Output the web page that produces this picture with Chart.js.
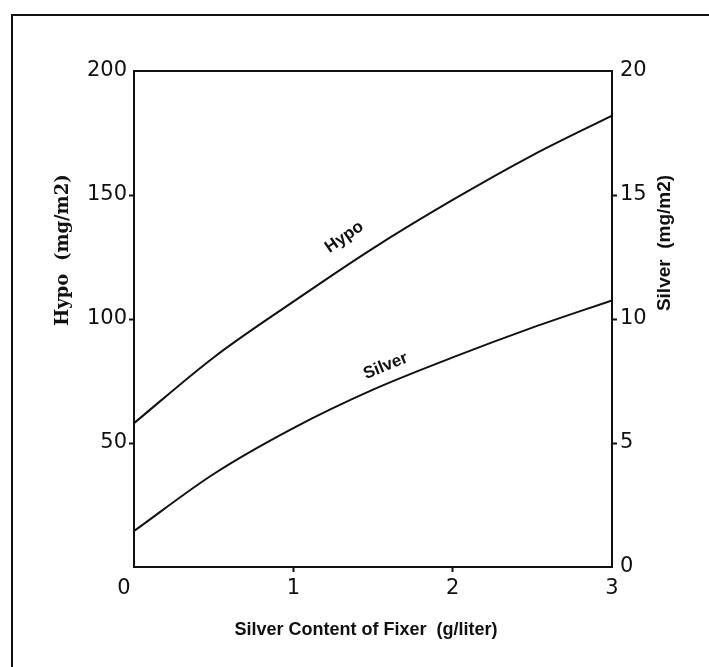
<!DOCTYPE html>
<html>
<head>
<meta charset="utf-8">
<script src="https://cdn.jsdelivr.net/npm/chart.js@4.4.1/dist/chart.umd.min.js"></script>
<style>
  html, body { margin: 0; padding: 0; background: #fff; }
  #wrap { position: relative; width: 709px; height: 667px; overflow: hidden; }
  #frame { position: absolute; left: 11px; top: 14px; width: 720px; height: 680px;
           border-left: 2px solid #111; border-top: 2px solid #111; pointer-events: none; }
</style>
</head>
<body>
<div id="wrap">
  <canvas id="fixerChart" width="709" height="667"></canvas>
  <div id="frame"></div>
</div>
<script>
// silver content of fixer (g/liter)
const silverContent = [0, 0.5, 1, 1.5, 2, 2.5, 3];
// hypo retained (mg/m2), left axis
const hypoValues = [58, 84.5, 107, 128.5, 148, 166, 182];
// silver retained (mg/m2), right axis
const silverValues = [1.45, 3.75, 5.6, 7.15, 8.45, 9.65, 10.75];

const xTicks = [0, 1, 2, 3];
const hypoTicks = [0, 50, 100, 150, 200];
const silverTicks = [0, 5, 10, 15, 20];

const tickFont = { family: 'DejaVu Sans', size: 21 };

// hide tick marks at the corners of the frame
function cornerTick(ctx, max) {
    const v = ctx.tick ? ctx.tick.value : null;
    return (v === 0 || v === max) ? 'rgba(0,0,0,0)' : '#111';
}

// frame top line, axis titles, and the labels written on the curves
const annotations = {
    id: 'annotations',
    afterDraw(chart) {
        const c = chart.ctx;
        const area = chart.chartArea;
        const xs = chart.scales.x;
        const ys = chart.scales.y;
        const y2 = chart.scales.y2;

        c.save();
        c.strokeStyle = '#111';
        c.lineWidth = 2;
        c.beginPath();
        c.moveTo(area.left - 1, area.top);
        c.lineTo(area.right + 1, area.top);
        c.stroke();

        c.fillStyle = '#111';
        c.textAlign = 'center';
        c.textBaseline = 'middle';

        c.save();
        c.translate(63, 250);
        c.rotate(-Math.PI / 2);
        c.font = 'bold 18px "DejaVu Serif"';
        c.fillText('Hypo  (mg/m2)', 0, 0);
        c.restore();

        c.save();
        c.translate(665, 243);
        c.rotate(-Math.PI / 2);
        c.font = 'bold 19px "Liberation Sans", Arial';
        c.fillText('Silver  (mg/m2)', 0, 0);
        c.restore();

        c.font = 'bold 18px "Liberation Sans", Arial';
        c.fillText('Silver Content of Fixer  (g/liter)', 366, 630);

        c.font = 'bold 17px "Liberation Sans", Arial';
        c.save();
        c.translate(xs.getPixelForValue(1.32), ys.getPixelForValue(133));
        c.rotate(-35 * Math.PI / 180);
        c.fillText('Hypo', 0, 0);
        c.restore();

        c.save();
        c.translate(xs.getPixelForValue(1.58), y2.getPixelForValue(8.1));
        c.rotate(-22 * Math.PI / 180);
        c.fillText('Silver', 0, 0);
        c.restore();

        c.restore();
    }
};

const ctx = document.getElementById('fixerChart').getContext('2d');
const fixerChart = new Chart(ctx, {
    type: 'line',
    data: {
        datasets: [{
            label: 'Hypo',
            data: silverContent.map((x, i) => ({ x: x, y: hypoValues[i] })),
            yAxisID: 'y',
            borderColor: '#111',
            borderWidth: 2,
            pointRadius: 0,
            cubicInterpolationMode: 'monotone',
            fill: false
        }, {
            label: 'Silver',
            data: silverContent.map((x, i) => ({ x: x, y: silverValues[i] })),
            yAxisID: 'y2',
            borderColor: '#111',
            borderWidth: 2,
            pointRadius: 0,
            cubicInterpolationMode: 'monotone',
            fill: false
        }]
    },
    options: {
        responsive: false,
        animation: false,
        layout: { padding: { top: 71, left: 0, right: 0, bottom: 0 } },
        plugins: {
            legend: { display: false },
            tooltip: { enabled: false }
        },
        scales: {
            x: {
                type: 'linear',
                min: 0,
                max: 3,
                afterFit: (scale) => { scale.height = 100; },
                afterBuildTicks: (scale) => { scale.ticks = xTicks.map(v => ({ value: v })); },
                border: { color: '#111', width: 2 },
                grid: {
                    drawOnChartArea: false,
                    tickLength: 5,
                    tickWidth: 2,
                    color: (c) => cornerTick(c, 3)
                },
                ticks: {
                    color: '#111',
                    font: tickFont,
                    padding: 4,
                    maxRotation: 0,
                    callback: (v) => v === 0 ? '0   ' : String(v)
                }
            },
            y: {
                type: 'linear',
                position: 'left',
                min: 0,
                max: 200,
                afterFit: (scale) => { scale.width = 134; },
                afterBuildTicks: (scale) => { scale.ticks = hypoTicks.map(v => ({ value: v })); },
                border: { color: '#111', width: 2 },
                grid: {
                    drawOnChartArea: false,
                    tickLength: 5,
                    tickWidth: 2,
                    color: (c) => cornerTick(c, 200)
                },
                ticks: {
                    color: '#111',
                    font: tickFont,
                    padding: 2,
                    callback: (v) => v === 0 ? '' : String(v)
                }
            },
            y2: {
                type: 'linear',
                position: 'right',
                min: 0,
                max: 20,
                afterFit: (scale) => { scale.width = 97; },
                afterBuildTicks: (scale) => { scale.ticks = silverTicks.map(v => ({ value: v })); },
                border: { color: '#111', width: 2 },
                grid: {
                    drawOnChartArea: false,
                    tickLength: 5,
                    tickWidth: 2,
                    color: (c) => cornerTick(c, 20)
                },
                ticks: {
                    color: '#111',
                    font: tickFont,
                    padding: 3,
                    callback: (v) => String(v)
                }
            }
        }
    },
    plugins: [annotations]
});
</script>
</body>
</html>
